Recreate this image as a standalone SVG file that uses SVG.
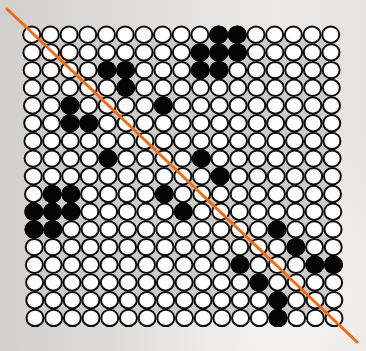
<svg xmlns="http://www.w3.org/2000/svg" xmlns:xlink="http://www.w3.org/1999/xlink" width="366" height="351" viewBox="0 0 366 351">
<style>
.w{fill:#ffffff;stroke:#0d0d0d;stroke-width:2}
.b{fill:#050505;stroke:#050505;stroke-width:2}
.cut{stroke:#f7690f;stroke-width:3;fill:none;stroke-linecap:round}
</style>
<defs>
<linearGradient id="bg" x1="0" y1="0" x2="1" y2="0">
<stop offset="0" stop-color="#d2d0ce"/>
<stop offset="0.4" stop-color="#e0dedc"/>
<stop offset="0.75" stop-color="#ebeae8"/>
<stop offset="1" stop-color="#e4e3e1"/>
</linearGradient>
<radialGradient id="glow" cx="0.8" cy="0.85" r="0.5">
<stop offset="0" stop-color="#f6f5f3" stop-opacity="0.9"/>
<stop offset="1" stop-color="#f6f5f3" stop-opacity="0"/>
</radialGradient>
<ellipse id="wc" class="w" rx="8.5" ry="8.2"/>
<ellipse id="bc" class="b" rx="8.5" ry="8.2"/>
<g id="row">
<use href="#wc" x="0"/><use href="#wc" x="18.69"/><use href="#wc" x="37.38"/><use href="#wc" x="56.07"/><use href="#wc" x="74.76"/><use href="#wc" x="93.45"/><use href="#wc" x="112.14"/><use href="#wc" x="130.83"/><use href="#wc" x="149.52"/><use href="#wc" x="168.21"/><use href="#wc" x="186.9"/><use href="#wc" x="205.59"/><use href="#wc" x="224.28"/><use href="#wc" x="242.97"/><use href="#wc" x="261.66"/><use href="#wc" x="280.35"/><use href="#wc" x="299.04"/>
</g>
</defs>
<rect width="366" height="351" fill="url(#bg)"/>
<rect width="366" height="351" fill="url(#glow)"/>
<polygon points="31.7,34.7 330.7,34.7 334,317.9 35,317.9" fill="#cdcac8"/>
<g id="grid">
<use href="#row" x="31.7" y="34.7"/>
<use href="#row" x="31.9" y="52.4"/>
<use href="#row" x="32.1" y="70.1"/>
<use href="#row" x="32.3" y="87.8"/>
<use href="#row" x="32.5" y="105.5"/>
<use href="#row" x="32.7" y="123.2"/>
<use href="#row" x="32.9" y="140.9"/>
<use href="#row" x="33.1" y="158.6"/>
<use href="#row" x="33.3" y="176.3"/>
<use href="#row" x="33.5" y="194"/>
<use href="#row" x="33.8" y="211.7"/>
<use href="#row" x="34" y="229.4"/>
<use href="#row" x="34.2" y="247.1"/>
<use href="#row" x="34.4" y="264.8"/>
<use href="#row" x="34.6" y="282.5"/>
<use href="#row" x="34.8" y="300.2"/>
<use href="#row" x="35" y="317.9"/>
</g>
<g id="black">
<g transform="translate(31.7,34.7)"><use href="#bc" x="186.9"/><use href="#bc" x="205.59"/></g>
<g transform="translate(31.9,52.4)"><use href="#bc" x="168.21"/><use href="#bc" x="186.9"/><use href="#bc" x="205.59"/></g>
<g transform="translate(32.1,70.1)"><use href="#bc" x="74.76"/><use href="#bc" x="93.45"/><use href="#bc" x="168.21"/><use href="#bc" x="186.9"/></g>
<g transform="translate(32.3,87.8)"><use href="#bc" x="93.45"/></g>
<g transform="translate(32.5,105.5)"><use href="#bc" x="37.38"/><use href="#bc" x="130.83"/></g>
<g transform="translate(32.7,123.2)"><use href="#bc" x="37.38"/><use href="#bc" x="56.07"/></g>
<g transform="translate(33.1,158.6)"><use href="#bc" x="74.76"/><use href="#bc" x="168.21"/></g>
<g transform="translate(33.3,176.3)"><use href="#bc" x="186.9"/></g>
<g transform="translate(33.5,194)"><use href="#bc" x="18.69"/><use href="#bc" x="37.38"/><use href="#bc" x="130.83"/></g>
<g transform="translate(33.8,211.7)"><use href="#bc" x="0"/><use href="#bc" x="18.69"/><use href="#bc" x="37.38"/><use href="#bc" x="149.52"/></g>
<g transform="translate(34,229.4)"><use href="#bc" x="0"/><use href="#bc" x="18.69"/><use href="#bc" x="242.97"/></g>
<g transform="translate(34.2,247.1)"><use href="#bc" x="261.66"/></g>
<g transform="translate(34.4,264.8)"><use href="#bc" x="205.59"/><use href="#bc" x="280.35"/><use href="#bc" x="299.04"/></g>
<g transform="translate(34.6,282.5)"><use href="#bc" x="224.28"/></g>
<g transform="translate(34.8,300.2)"><use href="#bc" x="242.97"/></g>
<g transform="translate(35,317.9)"><use href="#bc" x="242.97"/></g>
</g>
<line id="cut-line" class="cut" x1="7" y1="9" x2="357" y2="342"/>
</svg>
